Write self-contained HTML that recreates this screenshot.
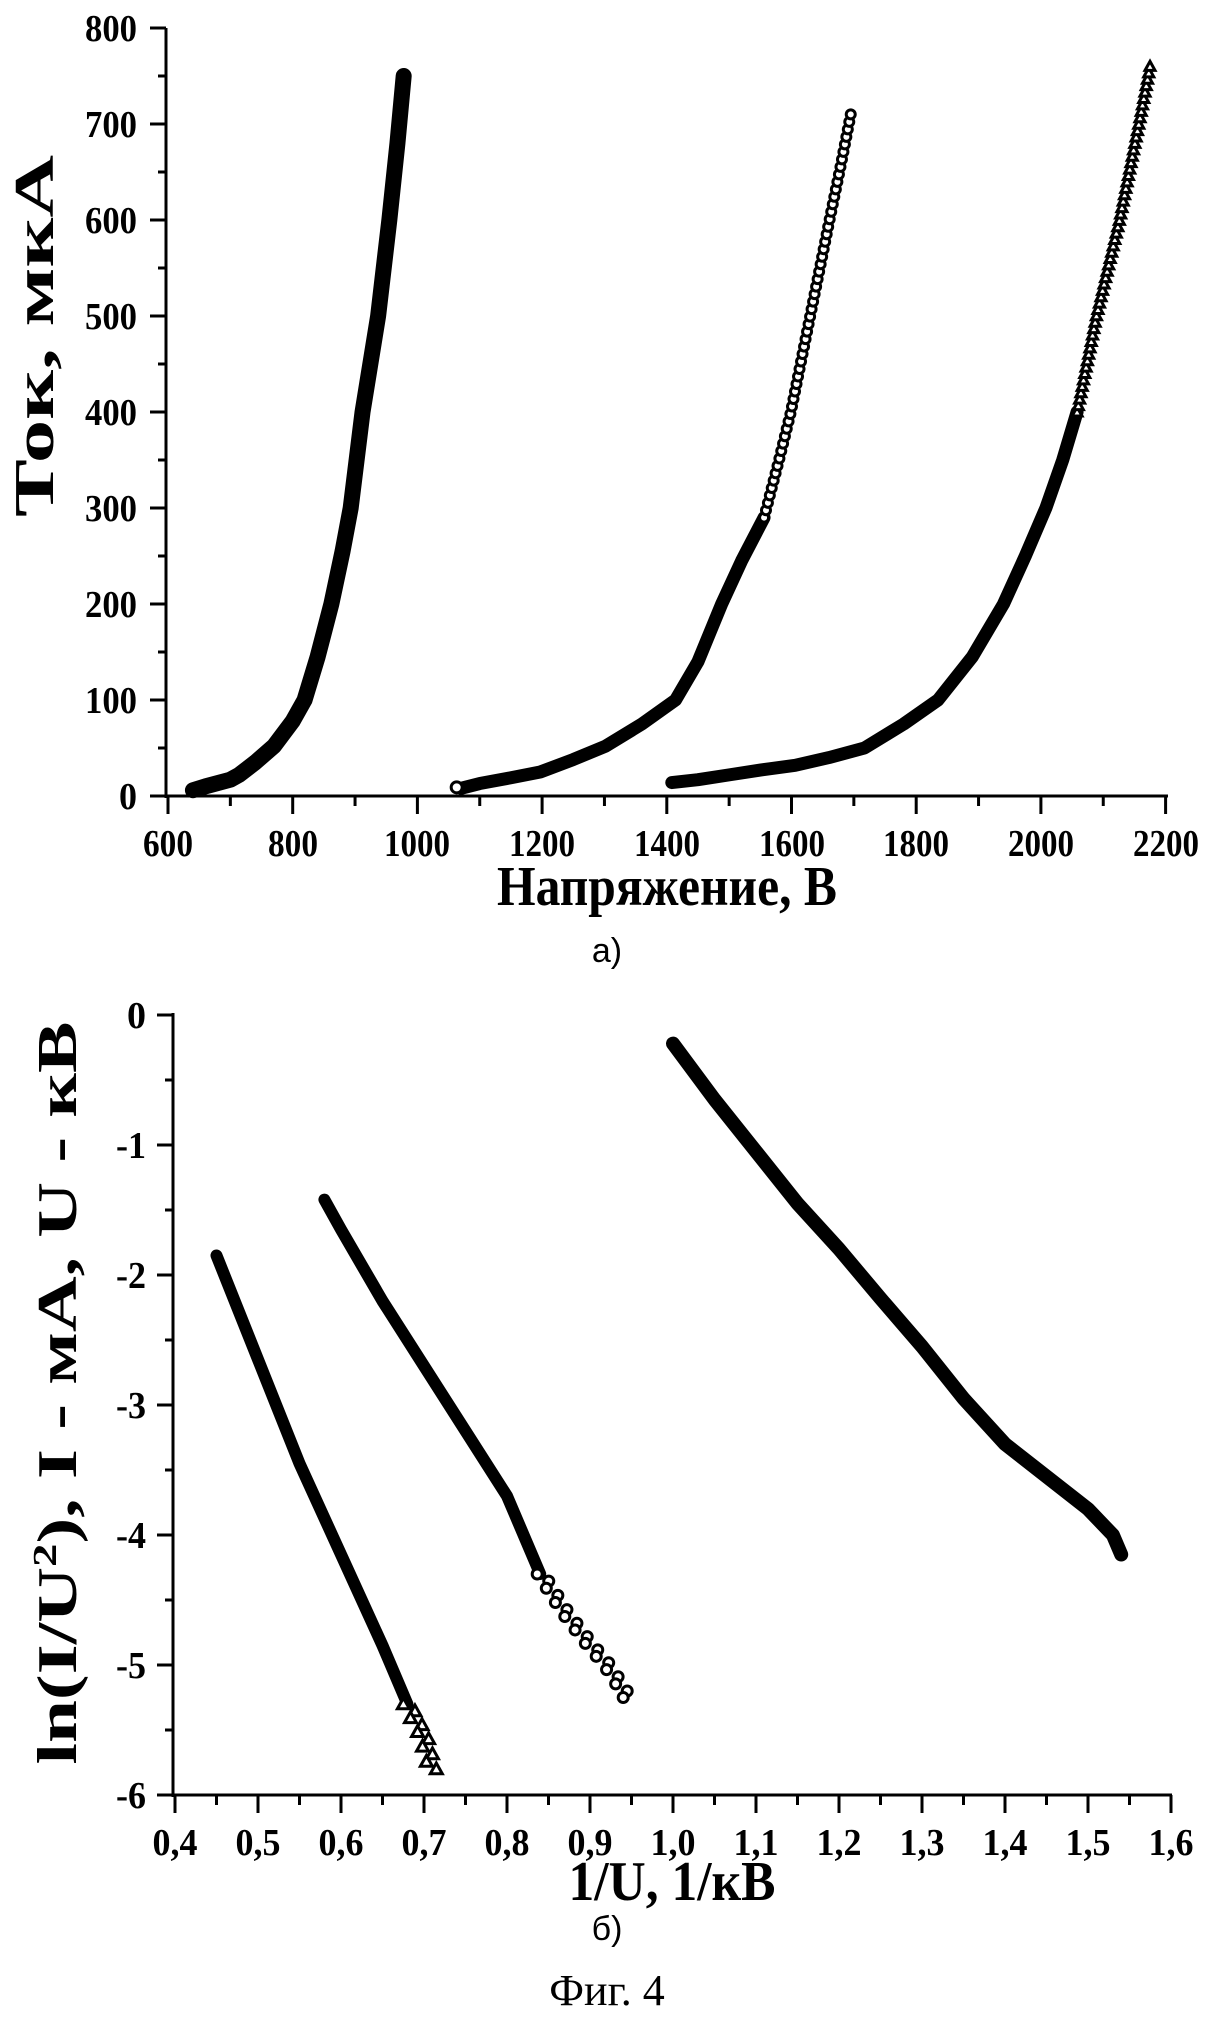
<!DOCTYPE html>
<html><head><meta charset="utf-8">
<style>
html,body{margin:0;padding:0;background:#fff;}
svg{display:block;}
.t{font-family:"Liberation Serif",serif;font-weight:bold;fill:#000;}
.s{font-family:"Liberation Sans",sans-serif;fill:#000;}
</style></head>
<body>
<svg id="c" width="1215" height="2037" viewBox="0 0 1215 2037" xmlns="http://www.w3.org/2000/svg">
<rect width="1215" height="2037" fill="#fff"/>
<g stroke="#000" stroke-width="3" fill="none">
<line x1="166" y1="28" x2="166" y2="798"/>
<line x1="164" y1="796" x2="1168" y2="796"/>
</g>
<g stroke="#000" stroke-width="3" id="topticks"></g>
<g class="t" font-size="38" text-anchor="end">
<text x="137" y="41" textLength="52" lengthAdjust="spacingAndGlyphs">800</text>
<text x="137" y="137" textLength="52" lengthAdjust="spacingAndGlyphs">700</text>
<text x="137" y="233" textLength="52" lengthAdjust="spacingAndGlyphs">600</text>
<text x="137" y="329" textLength="52" lengthAdjust="spacingAndGlyphs">500</text>
<text x="137" y="425" textLength="52" lengthAdjust="spacingAndGlyphs">400</text>
<text x="137" y="521" textLength="52" lengthAdjust="spacingAndGlyphs">300</text>
<text x="137" y="617" textLength="52" lengthAdjust="spacingAndGlyphs">200</text>
<text x="137" y="713" textLength="52" lengthAdjust="spacingAndGlyphs">100</text>
<text x="137" y="809" textLength="18" lengthAdjust="spacingAndGlyphs">0</text>
</g>
<g class="t" font-size="38" text-anchor="middle">
<text x="168" y="856" textLength="50" lengthAdjust="spacingAndGlyphs">600</text>
<text x="293" y="856" textLength="50" lengthAdjust="spacingAndGlyphs">800</text>
<text x="417" y="856" textLength="66" lengthAdjust="spacingAndGlyphs">1000</text>
<text x="542" y="856" textLength="66" lengthAdjust="spacingAndGlyphs">1200</text>
<text x="667" y="856" textLength="66" lengthAdjust="spacingAndGlyphs">1400</text>
<text x="792" y="856" textLength="66" lengthAdjust="spacingAndGlyphs">1600</text>
<text x="916" y="856" textLength="66" lengthAdjust="spacingAndGlyphs">1800</text>
<text x="1041" y="856" textLength="66" lengthAdjust="spacingAndGlyphs">2000</text>
<text x="1166" y="856" textLength="66" lengthAdjust="spacingAndGlyphs">2200</text>
</g>
<text class="t" x="497" y="905" font-size="56" textLength="340" lengthAdjust="spacingAndGlyphs">Напряжение, В</text>
<text class="s" x="607" y="962" font-size="34" text-anchor="middle">а)</text>
<text class="t" font-size="56" text-anchor="middle" transform="translate(53 336) rotate(-90)" textLength="362" lengthAdjust="spacingAndGlyphs">Ток, мкА</text>

<g transform="translate(168 796) scale(0.6235 -0.96) translate(-600 0)" fill="none" stroke="#000" stroke-linecap="round" stroke-linejoin="round">
<polyline vector-effect="non-scaling-stroke" stroke-width="16" points="640,6 660,10 700,17 714,22 740,35 770,52 800,78 819,100 840,145 862,200 880,255 893,300 912,400 937,500 955,600 968,680 978,750"/>
<polyline vector-effect="non-scaling-stroke" stroke-width="13" points="1070,8 1100,13 1150,19 1197,25 1250,38 1302,52 1360,75 1414,100 1450,140 1488,200 1520,245 1556,290"/>
<polyline vector-effect="non-scaling-stroke" stroke-width="13" points="1408,14 1450,17 1500,22 1550,27 1606,32 1660,40 1717,50 1780,75 1835,100 1890,145 1940,200 1975,250 2008,300 2035,350 2058,400"/>
</g>
<g id="topmarks" fill="#fff" stroke="#000" stroke-width="3"></g>

<g stroke="#000" stroke-width="3" fill="none">
<line x1="173" y1="1013" x2="173" y2="1797"/>
<line x1="171" y1="1795" x2="1172" y2="1795"/>
</g>
<g stroke="#000" stroke-width="3" id="botticks"></g>
<g class="t" font-size="38" text-anchor="end">
<text x="146" y="1028">0</text>
<text x="146" y="1158" textLength="30" lengthAdjust="spacingAndGlyphs">-1</text>
<text x="146" y="1288" textLength="30" lengthAdjust="spacingAndGlyphs">-2</text>
<text x="146" y="1418" textLength="30" lengthAdjust="spacingAndGlyphs">-3</text>
<text x="146" y="1548" textLength="30" lengthAdjust="spacingAndGlyphs">-4</text>
<text x="146" y="1678" textLength="30" lengthAdjust="spacingAndGlyphs">-5</text>
<text x="146" y="1808" textLength="30" lengthAdjust="spacingAndGlyphs">-6</text>
</g>
<g class="t" font-size="38" text-anchor="middle">
<text x="175" y="1855" textLength="45" lengthAdjust="spacingAndGlyphs">0,4</text>
<text x="258" y="1855" textLength="45" lengthAdjust="spacingAndGlyphs">0,5</text>
<text x="341" y="1855" textLength="45" lengthAdjust="spacingAndGlyphs">0,6</text>
<text x="424" y="1855" textLength="45" lengthAdjust="spacingAndGlyphs">0,7</text>
<text x="507" y="1855" textLength="45" lengthAdjust="spacingAndGlyphs">0,8</text>
<text x="590" y="1855" textLength="45" lengthAdjust="spacingAndGlyphs">0,9</text>
<text x="673" y="1855" textLength="45" lengthAdjust="spacingAndGlyphs">1,0</text>
<text x="756" y="1855" textLength="45" lengthAdjust="spacingAndGlyphs">1,1</text>
<text x="839" y="1855" textLength="45" lengthAdjust="spacingAndGlyphs">1,2</text>
<text x="922" y="1855" textLength="45" lengthAdjust="spacingAndGlyphs">1,3</text>
<text x="1005" y="1855" textLength="45" lengthAdjust="spacingAndGlyphs">1,4</text>
<text x="1088" y="1855" textLength="45" lengthAdjust="spacingAndGlyphs">1,5</text>
<text x="1171" y="1855" textLength="45" lengthAdjust="spacingAndGlyphs">1,6</text>
</g>
<text class="t" x="672" y="1900" font-size="56" text-anchor="middle" textLength="207" lengthAdjust="spacingAndGlyphs">1/U, 1/кВ</text>
<text class="s" x="607" y="1940" font-size="34" text-anchor="middle">б)</text>
<text x="607" y="2005" font-size="44" text-anchor="middle" font-family="Liberation Serif, serif">Фиг. 4</text>
<text class="t" font-size="56" text-anchor="middle" transform="translate(76 1393) rotate(-90)" textLength="743" lengthAdjust="spacingAndGlyphs">ln(I/U<tspan font-size="34" dy="-20">2</tspan><tspan dy="20">), I - мА, U - кВ</tspan></text>

<g transform="translate(175 1015) scale(830 -130) translate(-0.4 0)" fill="none" stroke="#000" stroke-linecap="round" stroke-linejoin="round">
<polyline vector-effect="non-scaling-stroke" stroke-width="14" points="1.0,-0.22 1.05,-0.65 1.1,-1.05 1.15,-1.45 1.2,-1.8 1.25,-2.18 1.3,-2.55 1.35,-2.95 1.4,-3.3 1.47,-3.65 1.5,-3.8 1.53,-4.0 1.54,-4.15"/>
<polyline vector-effect="non-scaling-stroke" stroke-width="12" points="0.58,-1.42 0.6,-1.65 0.65,-2.2 0.7,-2.7 0.75,-3.2 0.8,-3.7 0.84,-4.3"/>
<polyline vector-effect="non-scaling-stroke" stroke-width="12" points="0.45,-1.85 0.5,-2.65 0.55,-3.45 0.6,-4.15 0.65,-4.85 0.68,-5.3"/>
</g>
<g id="botmarks" fill="#fff" stroke="#000" stroke-width="3"></g>
</svg>
<script>
(function(){
var NS="http://www.w3.org/2000/svg";
function el(p,n,a){var e=document.createElementNS(NS,n);for(var k in a)e.setAttribute(k,a[k]);p.appendChild(e);return e;}
var tt=document.getElementById('topticks');
for(var i=0;i<=16;i++){var y=796-i*48;el(tt,'line',{x1:166-(i%2?8:16),y1:y,x2:166,y2:y});}
for(var i=0;i<=16;i++){var x=168+i*62.35;el(tt,'line',{x1:x,y1:796,x2:x,y2:796+(i%2?10:18)});}
var bt=document.getElementById('botticks');
for(var i=0;i<=12;i++){var y=1795-i*65;el(bt,'line',{x1:173-(i%2?8:16),y1:y,x2:173,y2:y});}
for(var i=0;i<=24;i++){var x=175+i*41.5;el(bt,'line',{x1:x,y1:1795,x2:x,y2:1795+(i%2?10:18)});}
function interp(pts,n){var out=[];var L=[0];for(var i=1;i<pts.length;i++)L.push(L[i-1]+Math.hypot(pts[i][0]-pts[i-1][0],pts[i][1]-pts[i-1][1]));var T=L[L.length-1];for(var k=0;k<n;k++){var d=T*k/(n-1);var j=1;while(j<L.length-1&&L[j]<d)j++;var f=(d-L[j-1])/(L[j]-L[j-1]||1);out.push([pts[j-1][0]+f*(pts[j][0]-pts[j-1][0]),pts[j-1][1]+f*(pts[j][1]-pts[j-1][1])]);}return out;}
function tp(v,i){return [168+(v-600)*0.6235,796-i*0.96];}
function bp(u,y){return [175+(u-0.4)*830,1015-130*y];}
var tm=document.getElementById('topmarks');
var c2=[[1556,290],[1580,350],[1599,400],[1630,500],[1661,600],[1680,660],[1695,710]].map(function(p){return tp(p[0],p[1]);});
interp(c2,55).forEach(function(p){el(tm,'circle',{cx:p[0],cy:p[1],r:4.5});});
el(tm,'circle',{cx:tp(1063,9)[0],cy:tp(1063,9)[1],r:5.5});
var c3=[[2058,400],[2089,500],[2126,600],[2157,700],[2175,760]].map(function(p){return tp(p[0],p[1]);});
function tri(g,p,s){el(g,'polygon',{points:(p[0])+','+(p[1]-s)+' '+(p[0]-s)+','+(p[1]+s*0.8)+' '+(p[0]+s)+','+(p[1]+s*0.8)});}
interp(c3,55).forEach(function(p){tri(tm,p,5);});
var bm=document.getElementById('botmarks');
var cb=[[0.84,-4.3],[0.87,-4.6],[0.9,-4.85],[0.92,-5.0],[0.94,-5.2]].map(function(p){return bp(p[0],p[1]);});
interp(cb,18).forEach(function(p,k){el(bm,'circle',{cx:p[0]+(k%2?4:-3),cy:p[1],r:5});});
el(bm,'circle',{cx:bp(0.94,-5.25)[0],cy:bp(0.94,-5.25)[1],r:5});
var cc=[[0.68,-5.3],[0.7,-5.55],[0.71,-5.8]].map(function(p){return bp(p[0],p[1]);});
interp(cc,10).forEach(function(p,k){tri(bm,[p[0]+(k%2?4:-4),p[1]],6);});
})();
</script>
</body></html>
